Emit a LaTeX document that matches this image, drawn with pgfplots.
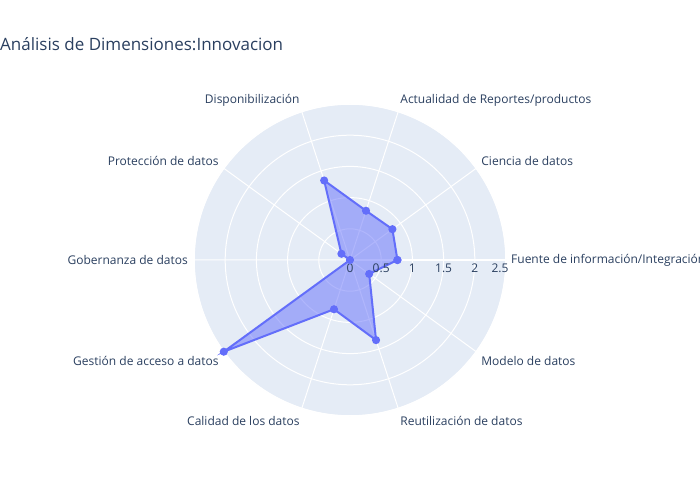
\documentclass[border=0pt]{standalone}
\usepackage{fontspec}
\setmainfont{Open Sans}
\usepackage{pgfplots}
\pgfplotsset{compat=1.18}
\usepgfplotslibrary{polar}
\definecolor{bgcol}{HTML}{E5ECF6}
\definecolor{linecol}{HTML}{636EFA}
\definecolor{txtcol}{HTML}{2A3F5F}
\tikzset{lbl/.style={font=\fontsize{12}{14}\selectfont, text=txtcol, inner sep=0pt}}
\begin{document}
\begin{tikzpicture}
\useasboundingbox (0,0) rectangle (700pt,500pt);
\node[anchor=west, inner sep=0pt, text=txtcol, font=\fontsize{17}{20}\selectfont] at (0pt,456pt) {Análisis de Dimensiones:Innovacion};
\begin{polaraxis}[
  at={(350pt,240pt)}, anchor=origin,
  scale only axis, width=312pt, height=312pt,
  ymin=0, ymax=2.5,
  xtick={0,36,...,324}, xticklabels={},
  ytick={0.5,1,...,2.5}, yticklabels={},
  grid=major,
  major grid style={white, line width=1pt},
  axis line style={white, line width=1.5pt},
  major tick length=0pt,
  axis background/.style={fill=bgcol},
  clip=false,
]
\addplot[color=linecol, line width=2pt, fill=linecol, fill opacity=0.5, mark=*, mark size=3pt, mark options={solid, fill=linecol, fill opacity=1}] coordinates {
(0,0.76) (36,0.84) (72,0.83) (108,1.34) (144,0.17) (180,0.0) (216,2.5) (252,0.83) (288,1.35) (324,0.38) (360,0.76)};
% radial tick labels
\node[lbl, anchor=north, yshift=-4pt] at (axis cs:0,0) {0};
\node[lbl, anchor=north, yshift=-4pt] at (axis cs:0,0.5) {0.5};
\node[lbl, anchor=north, yshift=-4pt] at (axis cs:0,1) {1};
\node[lbl, anchor=north, yshift=-4pt] at (axis cs:0,1.5) {1.5};
\node[lbl, anchor=north, yshift=-4pt] at (axis cs:0,2) {2};
\node[lbl, anchor=north, yshift=-4pt, xshift=-6pt] at (axis cs:0,2.5) {2.5};
% category labels
\node[lbl, anchor=west, xshift=5pt] at (axis cs:0,2.5) {Fuente de información/Integración};
\node[lbl, anchor=west, xshift=5pt, yshift=7pt] at (axis cs:36,2.5) {Ciencia de datos};
\node[lbl, anchor=west, xshift=2pt, yshift=11pt] at (axis cs:72,2.5) {Actualidad de Reportes/productos};
\node[lbl, anchor=east, xshift=-2pt, yshift=11pt] at (axis cs:108,2.5) {Disponibilización};
\node[lbl, anchor=east, xshift=-5pt, yshift=7pt] at (axis cs:144,2.5) {Protección de datos};
\node[lbl, anchor=east, xshift=-6pt] at (axis cs:180,2.5) {Gobernanza de datos};
\node[lbl, anchor=east, xshift=-5pt, yshift=-9pt] at (axis cs:216,2.5) {Gestión de acceso a datos};
\node[lbl, anchor=east, xshift=-2pt, yshift=-13pt] at (axis cs:252,2.5) {Calidad de los datos};
\node[lbl, anchor=west, xshift=2pt, yshift=-13pt] at (axis cs:288,2.5) {Reutilización de datos};
\node[lbl, anchor=west, xshift=5pt, yshift=-9pt] at (axis cs:324,2.5) {Modelo de datos};
\end{polaraxis}
\end{tikzpicture}
\end{document}
